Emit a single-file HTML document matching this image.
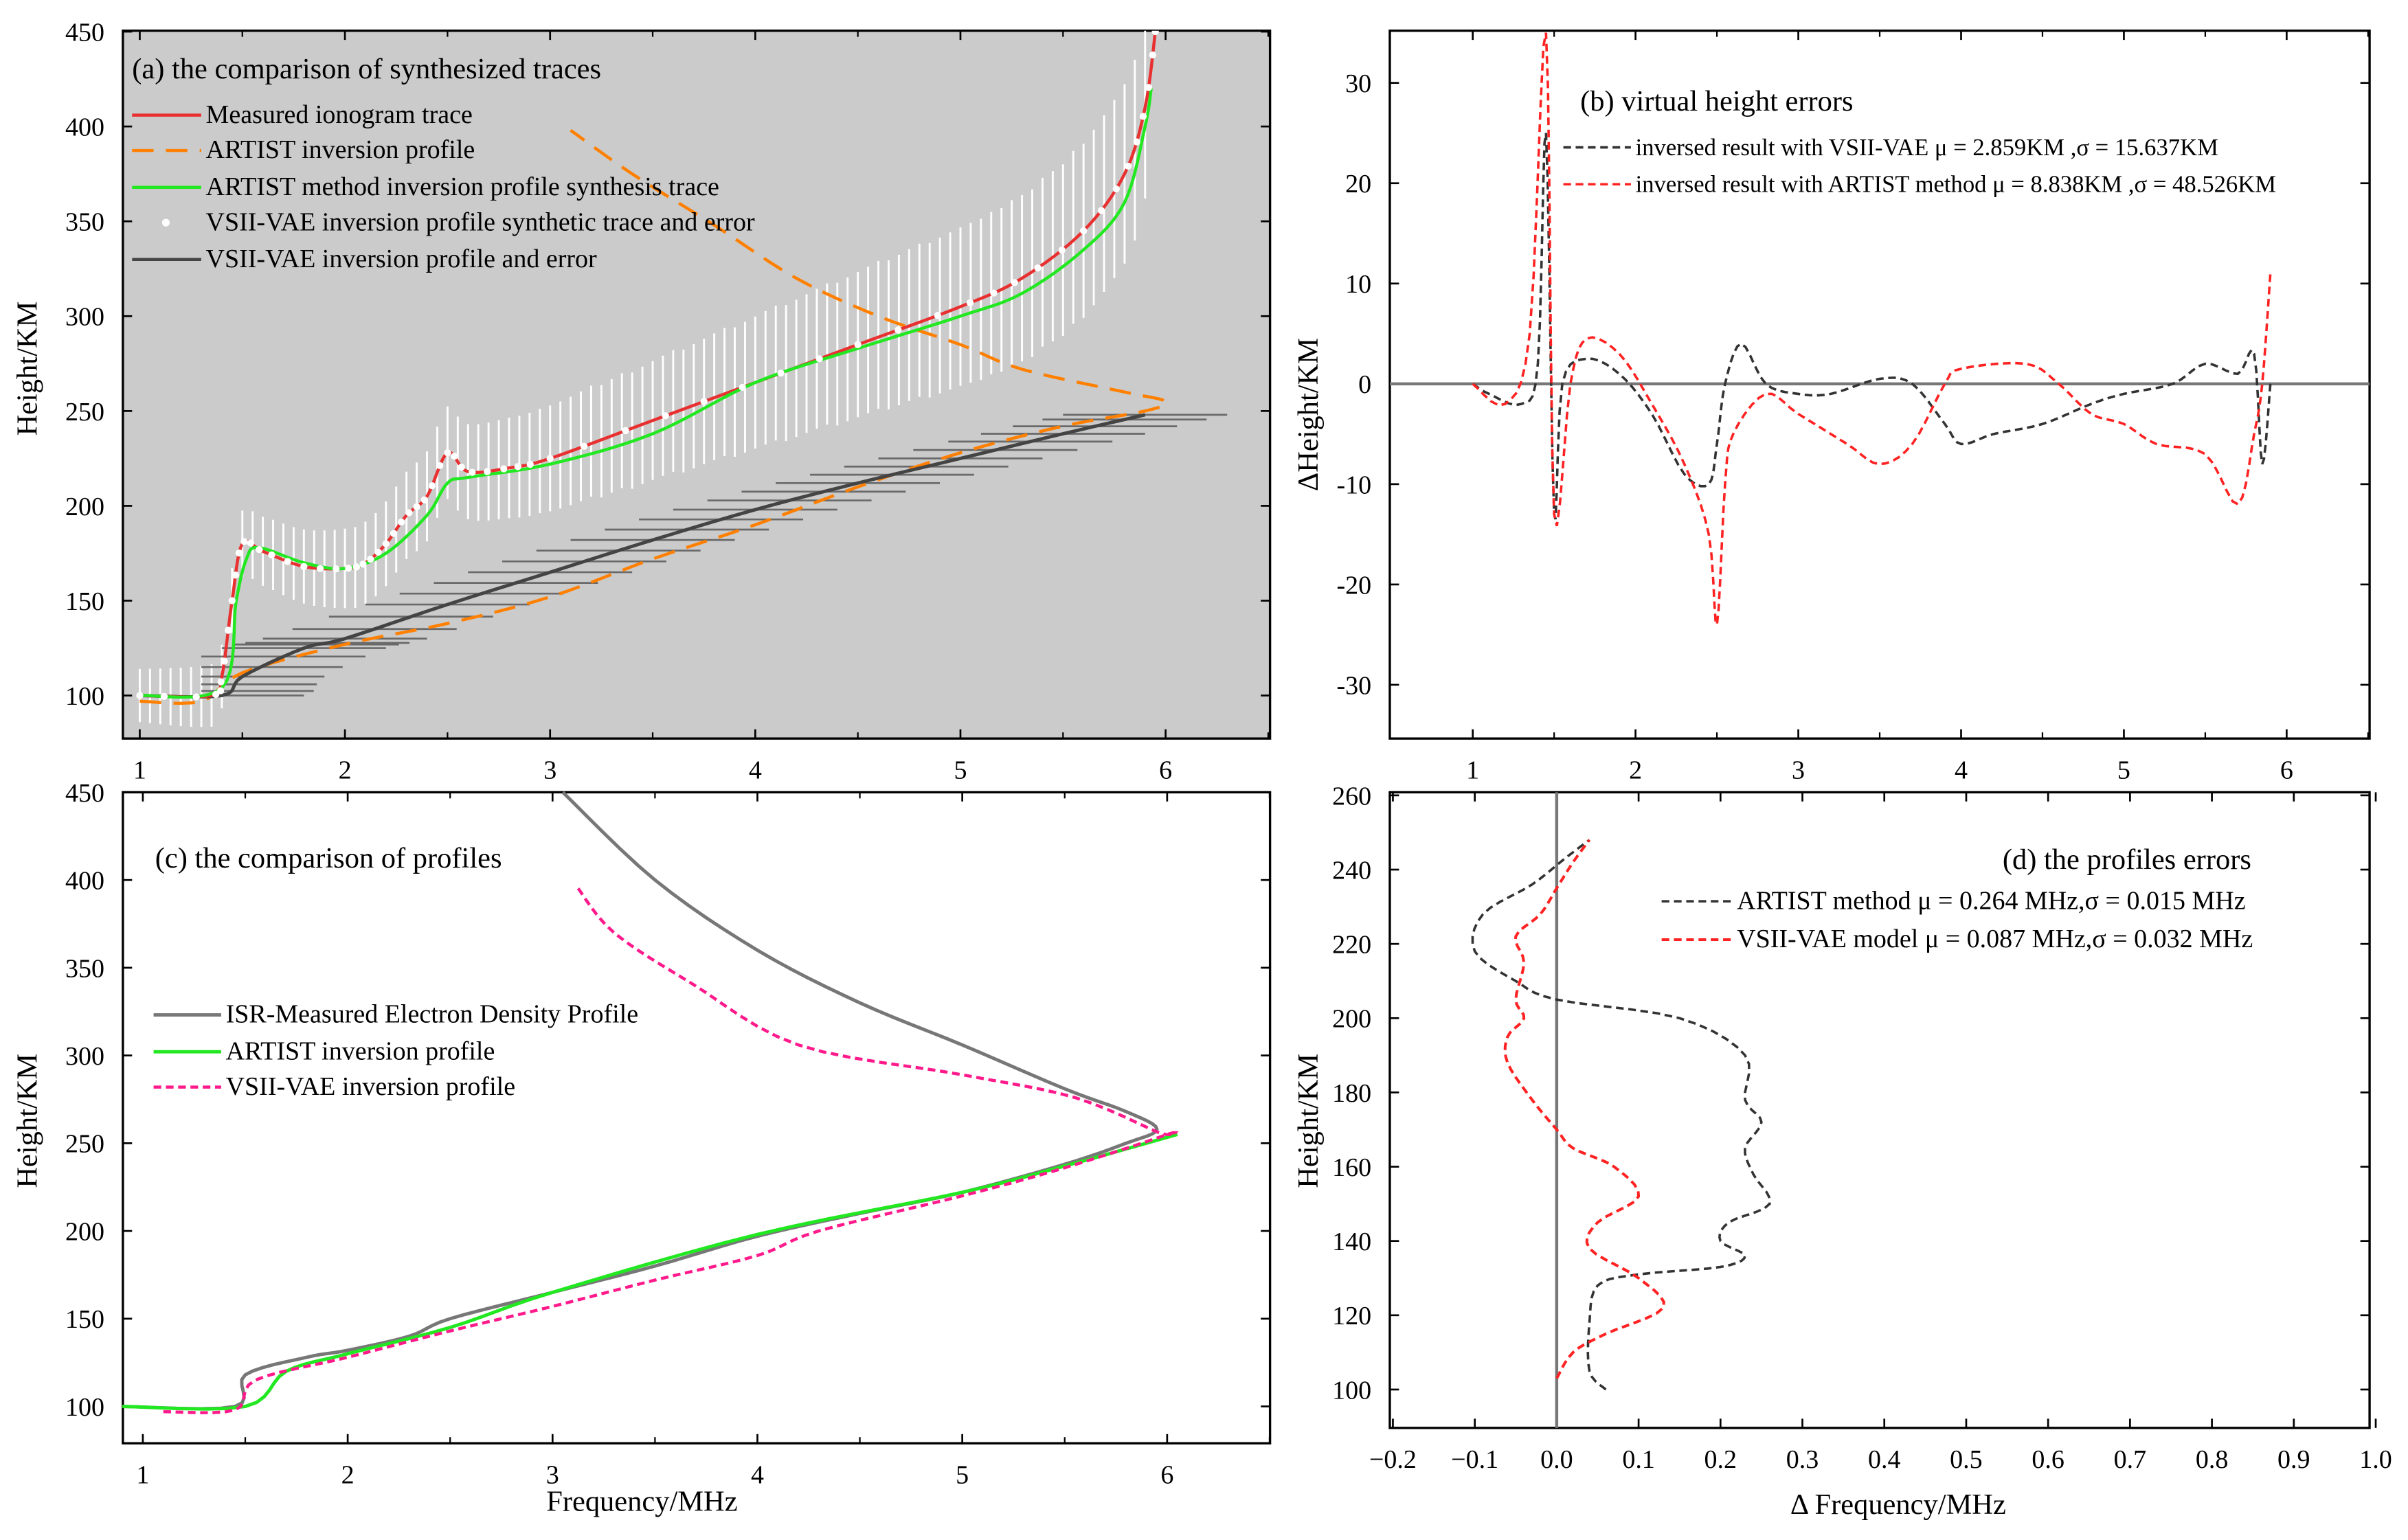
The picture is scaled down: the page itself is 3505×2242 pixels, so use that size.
<!DOCTYPE html>
<html><head><meta charset="utf-8">
<style>
html,body{margin:0;padding:0;background:#fff;}
svg{display:block;font-family:"Liberation Serif",serif;}
</style></head>
<body>
<svg id="fig" width="3505" height="2242" viewBox="0 0 1568 1003" xmlns="http://www.w3.org/2000/svg"></svg>
<script>
// ---------- Panel (a) data ----------
const aMeasured = [[1.0,100],[1.35,100],[1.4,110],[1.45,150],[1.5,180],[1.6,176],[1.8,168],[2.0,167],[2.1,170],[2.2,180],[2.3,195],[2.4,205],[2.5,228],[2.6,218],[2.8,220],[3.0,225],[3.5,245],[4.0,265],[4.5,285],[5.0,305],[5.3,320],[5.6,345],[5.8,375],[5.9,410],[5.95,450]];
const aGreen = [[1.0,100],[1.4,104],[1.47,150],[1.52,172],[1.58,178],[1.8,170],[2.0,167],[2.2,175],[2.4,195],[2.5,212],[2.6,215],[3.0,222],[3.5,238],[4.0,265],[4.5,283],[5.0,300],[5.3,312],[5.6,335],[5.8,360],[5.9,400],[5.93,420]];
const aArtist = [[1.0,97],[1.3,97],[1.5,112],[2.0,127],[2.5,138],[3.0,152],[3.5,172],[4.0,190],[4.5,210],[5.0,228],[5.5,242],[5.9,250],[6.0,255],[5.8,260],[5.3,272],[5.0,285],[4.6,300],[4.2,320],[3.8,348],[3.4,375],[3.1,398]];
const aVsii = [[1.0,100],[1.4,100],[1.5,110],[1.8,125],[2.0,130],[2.5,148],[3.0,165],[3.5,182],[4.0,198],[4.5,212],[5.0,225],[5.5,238],[5.9,248]];
const aErrX = 0.4;
const aBarErrLow = 14;
const aBarErrHigh = 48;
// ---------- Panel (b) data ----------
const bBlack = [[1.0,0],[1.1,-1],[1.3,-2],[1.4,2],[1.45,25],[1.5,-13],[1.55,0],[1.7,2.5],[1.9,1],[2.1,-3],[2.3,-9],[2.45,-10],[2.5,-6],[2.55,0],[2.65,4],[2.8,0],[3.0,-1],[3.2,-1],[3.5,0.5],[3.7,0],[3.9,-4],[4.0,-6],[4.2,-5],[4.5,-4],[4.8,-2],[5.0,-1],[5.3,0],[5.5,2],[5.7,1],[5.8,3],[5.85,-8],[5.9,0]];
const bRed = [[1.0,0],[1.2,-2],[1.35,5],[1.45,35],[1.5,-13],[1.6,0],[1.7,4.5],[1.9,3],[2.1,-2],[2.3,-8],[2.45,-15],[2.5,-24],[2.55,-10],[2.6,-5],[2.8,-1],[3.0,-3],[3.3,-6],[3.5,-8],[3.7,-6],[3.9,0],[4.0,1.5],[4.4,2],[4.6,0],[4.8,-3],[5.0,-4],[5.2,-6],[5.5,-7],[5.7,-12],[5.8,-5],[5.85,0],[5.9,11]];
// ---------- Panel (c) data ----------
const cIsr = [[0.9,100],[1.45,100],[1.5,118],[1.8,128],[2.0,132],[2.3,140],[2.5,150],[3.0,165],[3.5,180],[4.0,197],[4.5,210],[5.0,222],[5.5,238],[5.8,250],[5.95,258],[5.8,268],[5.5,281],[5.0,306],[4.5,330],[4.0,360],[3.5,400],[3.05,450]];
const cArtist = [[0.9,100],[1.5,100],[1.7,120],[2.0,130],[2.5,145],[3.0,165],[4.0,198],[5.0,222],[5.5,237],[6.05,255]];
const cVsii = [[1.1,97],[1.45,98],[1.55,115],[2.0,128],[2.5,143],[3.0,157],[3.5,172],[4.0,186],[4.3,200],[5.0,220],[5.5,236],[6.0,255],[5.96,256],[5.55,276],[5.0,289],[4.2,306],[3.68,341],[3.3,370],[3.12,396]];
// ---------- Panel (d) data ----------
const dBlack = [[0.06,100],[0.04,105],[0.04,118],[0.05,128],[0.1,131],[0.2,133],[0.23,136],[0.2,140],[0.21,145],[0.26,150],[0.24,158],[0.23,165],[0.25,172],[0.23,178],[0.23,190],[0.15,200],[0.0,205],[-0.05,210],[-0.1,218],[-0.09,228],[-0.03,236],[0.01,243],[0.04,248]];
const dRed = [[0.0,103],[0.02,110],[0.06,115],[0.13,122],[0.1,130],[0.04,138],[0.05,145],[0.1,152],[0.07,160],[0.02,165],[0.0,170],[-0.03,178],[-0.06,188],[-0.06,195],[-0.04,200],[-0.05,205],[-0.04,215],[-0.05,222],[-0.02,228],[0.0,235],[0.02,242],[0.04,248]];

const xTicksA = [1,2,3,4,5,6];
const yTicksA = [100,150,200,250,300,350,400,450];
const yTicksB = [-30,-20,-10,0,10,20,30];
const xTicksD = [-0.2,-0.1,0.0,0.1,0.2,0.3,0.4,0.5,0.6,0.7,0.8,0.9,1.0];
const yTicksD = [100,120,140,160,180,200,220,240,260];

const NS="http://www.w3.org/2000/svg";
const svg=document.getElementById('fig');
function el(tag,attrs,parent,text){const e=document.createElementNS(NS,tag);for(const k in attrs)e.setAttribute(k,attrs[k]);if(text!==undefined)e.textContent=text;(parent||svg).appendChild(e);return e;}
function lin(d0,d1,r0,r1){return v=>r0+(v-d0)*(r1-r0)/(d1-d0);}
function pathD(pts,sx,sy){return pts.map((p,i)=>(i?'L':'M')+sx(p[0]).toFixed(2)+','+sy(p[1]).toFixed(2)).join(' ');}
function smooth(pts,n){const out=[];for(let i=0;i<pts.length-1;i++){const p0=pts[Math.max(0,i-1)],p1=pts[i],p2=pts[i+1],p3=pts[Math.min(pts.length-1,i+2)];for(let t=0;t<n;t++){const s=t/n,s2=s*s,s3=s2*s;const f=(a,b,c,d)=>0.5*((2*b)+(-a+c)*s+(2*a-5*b+4*c-d)*s2+(-a+3*b-3*c+d)*s3);out.push([f(p0[0],p1[0],p2[0],p3[0]),f(p0[1],p1[1],p2[1],p3[1])]);}}out.push(pts[pts.length-1]);return out;}

function frame(name,x0,y0,x1,y1,fill){
  const g=el('g',{});
  el('rect',{x:x0,y:y0,width:x1-x0,height:y1-y0,fill:fill,stroke:'#000','stroke-width':1.5},g);
  return g;
}
function xAxis(g,ticks,sx,y0,y1,fmt,minor){
  const ag=el('g',{},g);
  ticks.forEach(t=>{el('line',{x1:sx(t),x2:sx(t),y1:y1,y2:y1-6,stroke:'#000','stroke-width':1.2},ag);el('line',{x1:sx(t),x2:sx(t),y1:y0,y2:y0+6,stroke:'#000','stroke-width':1.2},ag);
    const tx=el('text',{x:sx(t),y:y1+26,'font-size':17,'text-anchor':'middle'},ag,fmt?fmt(t):String(t));});
  if(minor)minor.forEach(t=>{el('line',{x1:sx(t),x2:sx(t),y1:y1,y2:y1-4,stroke:'#000'},ag);el('line',{x1:sx(t),x2:sx(t),y1:y0,y2:y0+4,stroke:'#000'},ag);});
}
function yAxis(g,ticks,sy,x0,x1){
  const ag=el('g',{},g);
  ticks.forEach(t=>{el('line',{x1:x0,x2:x0+6,y1:sy(t),y2:sy(t),stroke:'#000','stroke-width':1.2},ag);el('line',{x1:x1,x2:x1-6,y1:sy(t),y2:sy(t),stroke:'#000','stroke-width':1.2},ag);
    const tx=el('text',{x:x0-12,y:sy(t)+6,'font-size':17,'text-anchor':'end'},ag,String(t));});
}
function yTitle(g,x,y,txt){const t=el('text',{x:x,y:y,'font-size':19,'text-anchor':'middle',transform:`rotate(-90 ${x} ${y})`},g,txt);}
function line(g,name,pts,sx,sy,attrs){const p=el('path',Object.assign({d:pathD(pts,sx,sy),fill:'none'},attrs),g);return p;}
function legendLine(g,name,x,y,len,attrs,txt,fs){const lg=el('g',{},g);
  el('line',Object.assign({x1:x,x2:x+len,y1:y,y2:y},attrs),lg);el('text',{x:x+len+3,y:y+5,'font-size':fs||17},lg,txt);}
const minorA=[1.5,2.5,3.5,4.5,5.5,6.5];

// ===== Panel a =====
{
 const g=frame('panel-a-synthesized-traces',80,20,827,481,'#cbcbcb');
 const sx=lin(1,6,91,759), sy=lin(100,450,453,20.6);
 xAxis(g,xTicksA,sx,20,481,null,minorA.filter(v=>sx(v)<827));
 yAxis(g,yTicksA,sy,80,827);
 yTitle(g,24,240,'Height/KM');
 const clip=el('clipPath',{id:'ca'},g);el('rect',{x:80,y:20,width:747,height:461},clip);
 const cg=el('g',{'clip-path':'url(#ca)'},g);
 const ms=smooth(aMeasured,8);
 const eg=el('g',{},cg);
 for(let f=1.0;f<=5.9;f+=0.05){let best=ms[0];ms.forEach(p=>{if(Math.abs(p[0]-f)<Math.abs(best[0]-f))best=p;});
   const e=aBarErrLow+(aBarErrHigh-aBarErrLow)*(f-1)/4.9;
   el('line',{x1:sx(f),x2:sx(f),y1:sy(best[1]-e),y2:sy(best[1]+e),stroke:'#fff','stroke-width':1.3},eg);}
 const vs=smooth(aVsii,6);
 const hg=el('g',{},cg);
 for(let i=0;i<vs.length;i+=2){const p=vs[i];if(p[0]<1.35)continue;el('line',{x1:sx(Math.max(1.3,p[0]-aErrX)),x2:Math.min(825,sx(p[0]+aErrX)),y1:sy(p[1]),y2:sy(p[1]),stroke:'#6a6a6a','stroke-width':1.2},hg);}
 line(cg,'artist-inversion-profile',smooth(aArtist,6),sx,sy,{stroke:'#ff8000','stroke-width':2,'stroke-dasharray':'14 8'});
 line(cg,'vsii-vae-profile',vs,sx,sy,{stroke:'#444','stroke-width':2.2});
 line(cg,'measured-ionogram-trace',ms,sx,sy,{stroke:'#e83030','stroke-width':2});
 line(cg,'artist-synthesis-trace',smooth(aGreen,8),sx,sy,{stroke:'#22e822','stroke-width':2});
 const dg=el('g',{},cg);
 for(let i=0;i<ms.length;i+=3){el('circle',{cx:sx(ms[i][0]),cy:sy(ms[i][1]),r:2.3,fill:'#fff'},dg);}
 el('text',{x:86,y:51,'font-size':19},g,'(a) the comparison of synthesized traces');
 legendLine(g,'legend-measured',86,75,45,{stroke:'#e83030','stroke-width':2},'Measured ionogram trace');
 legendLine(g,'legend-artist-profile',86,98,45,{stroke:'#ff8000','stroke-width':2,'stroke-dasharray':'14 8'},'ARTIST  inversion profile');
 legendLine(g,'legend-artist-synthesis',86,122,45,{stroke:'#22e822','stroke-width':2},'ARTIST method inversion profile synthesis trace');
 const lg=el('g',{},g);
 el('circle',{cx:108,cy:145,r:2.5,fill:'#fff'},lg);el('text',{x:134,y:150,'font-size':17},lg,'VSII-VAE  inversion profile synthetic trace and error');
 legendLine(g,'legend-vsii-profile',86,169,45,{stroke:'#444','stroke-width':2},'VSII-VAE  inversion profile and error');
}
// ===== Panel b =====
{
 const g=frame('panel-b-virtual-height-errors',905,20,1543,481,'#fff');
 const sx=lin(1,6,959,1489), sy=lin(-30,30,446,54);
 xAxis(g,xTicksA,sx,20,481,null,[1.5,2.5,3.5,4.5,5.5,6.5].filter(v=>sx(v)<1543));
 yAxis(g,yTicksB,sy,905,1543);
 yTitle(g,858,270,'ΔHeight/KM');
 el('line',{x1:905,x2:1543,y1:sy(0),y2:sy(0),stroke:'#777','stroke-width':2},g);
 const clip=el('clipPath',{id:'cb'},g);el('rect',{x:905,y:20,width:638,height:461},clip);
 const cg=el('g',{'clip-path':'url(#cb)'},g);
 line(cg,'vsii-height-error-line',smooth(bBlack,5),sx,sy,{stroke:'#333','stroke-width':1.6,'stroke-dasharray':'5 3'});
 line(cg,'artist-height-error-line',smooth(bRed,5),sx,sy,{stroke:'#f22','stroke-width':1.6,'stroke-dasharray':'5 3'});
 el('text',{x:1029,y:72,'font-size':19},g,'(b) virtual height errors');
 legendLine(g,'legend-vsii-error',1018,96,44,{stroke:'#333','stroke-width':1.6,'stroke-dasharray':'5 3'},'inversed result with VSII-VAE  μ = 2.859KM  ,σ = 15.637KM',15.5);
 legendLine(g,'legend-artist-error',1018,120,44,{stroke:'#f22','stroke-width':1.6,'stroke-dasharray':'5 3'},'inversed result with ARTIST method  μ = 8.838KM  ,σ = 48.526KM',15.5);
}
// ===== Panel c =====
{
 const g=frame('panel-c-profile-comparison',80,516,827,940,'#fff');
 const sx=lin(1,6,93,760), sy=lin(100,450,916,516);
 xAxis(g,xTicksA,sx,516,940,null,minorA.filter(v=>sx(v)<827));
 yAxis(g,yTicksA,sy,80,827);
 yTitle(g,24,730,'Height/KM');
 const t=el('text',{x:418,y:984,'font-size':19,'text-anchor':'middle'},g,'Frequency/MHz');
 line(g,'isr-profile',smooth(cIsr,6),sx,sy,{stroke:'#777','stroke-width':2.2});
 line(g,'artist-profile',smooth(cArtist,6),sx,sy,{stroke:'#22e822','stroke-width':2.2});
 line(g,'vsii-profile',smooth(cVsii,6),sx,sy,{stroke:'#ff1a8c','stroke-width':2,'stroke-dasharray':'5 3'});
 el('text',{x:101,y:565,'font-size':19},g,'(c) the comparison of profiles');
 legendLine(g,'legend-isr',100,661,44,{stroke:'#777','stroke-width':2.2},'ISR-Measured Electron Density Profile');
 legendLine(g,'legend-artist',100,685,44,{stroke:'#22e822','stroke-width':2.2},'ARTIST  inversion profile');
 legendLine(g,'legend-vsii',100,708,44,{stroke:'#ff1a8c','stroke-width':2,'stroke-dasharray':'5 3'},'VSII-VAE  inversion profile');
}
// ===== Panel d =====
{
 const g=frame('panel-d-profile-errors',905,516,1543,930,'#fff');
 const sx=lin(-0.2,1.0,907,1547), sy=lin(100,260,905,518);
 xAxis(g,xTicksD,sx,516,930,v=>(v<0?'−':'')+Math.abs(v).toFixed(1));
 yAxis(g,yTicksD,sy,905,1543);
 yTitle(g,858,730,'Height/KM');
 const t=el('text',{x:1236,y:986,'font-size':19,'text-anchor':'middle'},g,'Δ Frequency/MHz');
 el('line',{x1:sx(0),x2:sx(0),y1:516,y2:930,stroke:'#777','stroke-width':2},g);
 line(g,'artist-frequency-error-line',smooth(dBlack,5),sx,sy,{stroke:'#333','stroke-width':1.6,'stroke-dasharray':'5 3'});
 line(g,'vsii-frequency-error-line',smooth(dRed,5),sx,sy,{stroke:'#f22','stroke-width':1.8,'stroke-dasharray':'5 3'});
 el('text',{x:1304,y:566,'font-size':19},g,'(d) the profiles errors');
 legendLine(g,'legend-artist-freq',1082,587,46,{stroke:'#333','stroke-width':1.6,'stroke-dasharray':'5 3'},'ARTIST method μ = 0.264 MHz,σ = 0.015 MHz');
 legendLine(g,'legend-vsii-freq',1082,612,46,{stroke:'#f22','stroke-width':1.8,'stroke-dasharray':'5 3'},'VSII-VAE model μ = 0.087 MHz,σ = 0.032 MHz');
}
</script>
</body></html>
